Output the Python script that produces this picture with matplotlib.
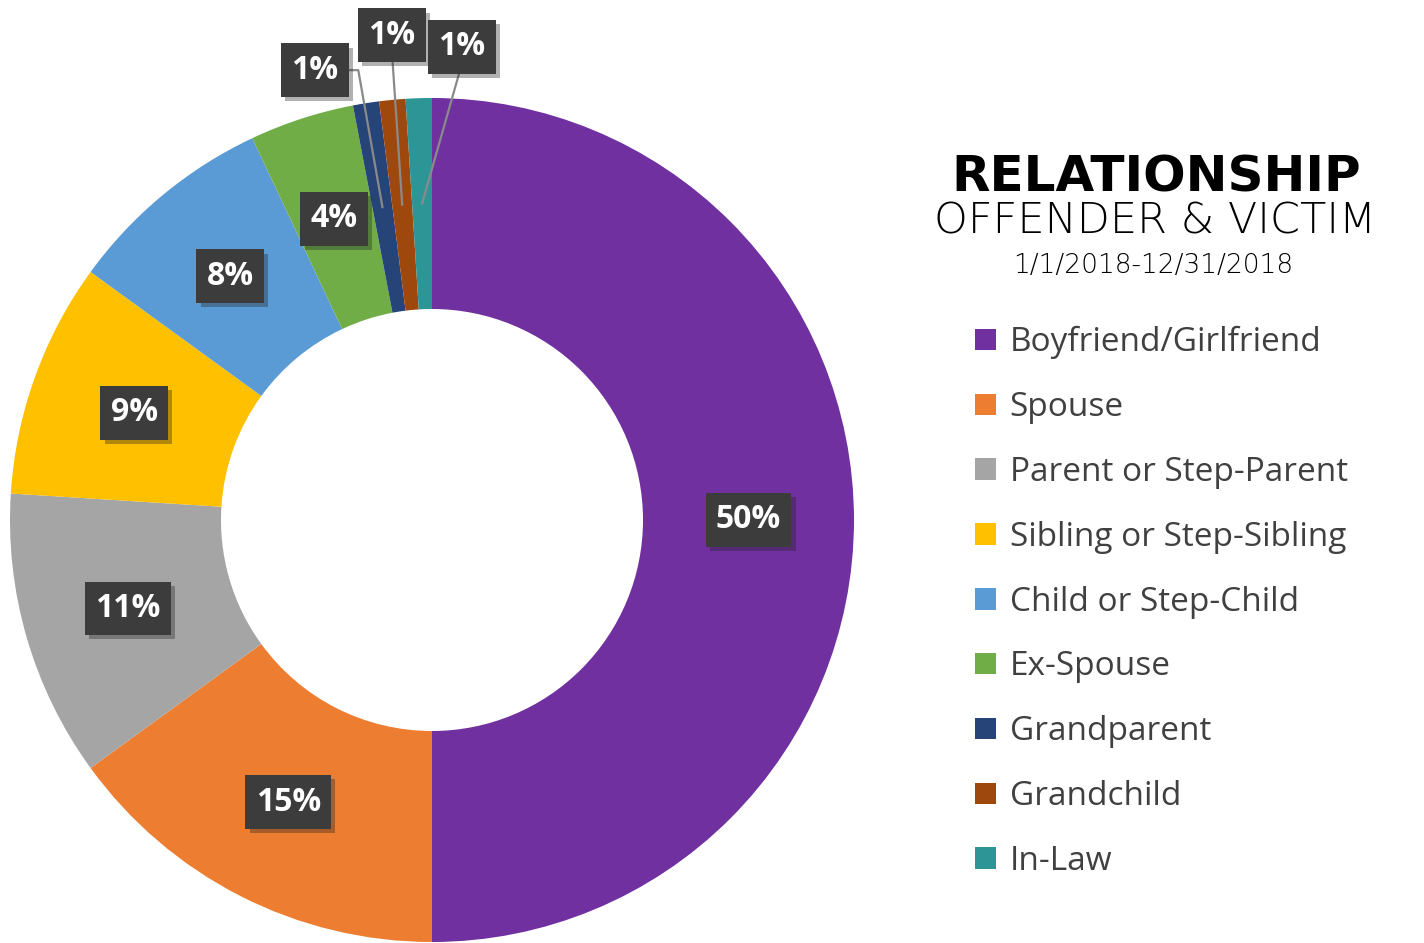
import numpy as np
import matplotlib
matplotlib.use("Agg")
import matplotlib.pyplot as plt
import matplotlib.patheffects as pe

categories = ["Boyfriend/Girlfriend", "Spouse", "Parent or Step-Parent",
              "Sibling or Step-Sibling", "Child or Step-Child", "Ex-Spouse",
              "Grandparent", "Grandchild", "In-Law"]
values = [50, 15, 11, 9, 8, 4, 1, 1, 1]
labels = ["50%", "15%", "11%", "9%", "8%", "4%", "1%", "1%", "1%"]
colors = ["#7030A0", "#ED7D31", "#A5A5A5", "#FFC000", "#5B9BD5",
          "#70AD47", "#264478", "#9E480E", "#2E9597"]
# label offsets (outside placement) for the small slices, in axes data units
outside_text = {6: (-0.277, 1.066), 7: (-0.095, 1.149), 8: (0.071, 1.121)}

W, H = 1424, 943
fig = plt.figure(figsize=(W / 100, H / 100), dpi=100)
fig.patch.set_facecolor("white")

cx, cy, R = 432, 520, 422
ax = fig.add_axes([(cx - R) / W, (H - cy - R) / H, 2 * R / W, 2 * R / H])

wedges, _ = ax.pie(values, colors=colors, startangle=90, counterclock=False,
                   radius=1.0, wedgeprops=dict(width=0.5, edgecolor="none"))
ax.set_xlim(-1, 1)
ax.set_ylim(-1, 1)
ax.set_aspect("equal")
ax.axis("off")

total = float(sum(values))
cum = np.cumsum([0] + values[:-1])
lab_font = dict(family=["Open Sans", "DejaVu Sans"], weight="bold", fontsize=23, color="white")
box = dict(boxstyle="square,pad=0.32", facecolor="#3C3C3C", edgecolor="none")
shadow = [pe.SimplePatchShadow(offset=(3, -3), alpha=0.35, shadow_rgbFace="#222222"), pe.Normal()]

for i, v in enumerate(values):
    mid = (cum[i] + v / 2) / total * 360.0
    th = np.deg2rad(90 - mid)
    r = 0.75
    px, py = r * np.cos(th), r * np.sin(th)
    if i in outside_text:
        tx, ty = outside_text[i]
        if i == 6:
            cs = "angle,angleA=0,angleB=100,rad=0"
        else:
            cs = "arc3,rad=0"
        t = ax.annotate(labels[i], xy=(px, py), xytext=(tx, ty), ha="center", va="center",
                        bbox=box, arrowprops=dict(arrowstyle="-", color="#8A8A8A", lw=1.6,
                                                  shrinkA=0, shrinkB=0, connectionstyle=cs,
                                                  relpos=(1.0, 0.5) if i == 6 else (0.5, 0.0)),
                        annotation_clip=False, **lab_font)
    else:
        t = ax.text(px, py, labels[i], ha="center", va="center", bbox=box, **lab_font)
    t.get_bbox_patch().set_path_effects(shadow)

# Titles
fig.text(1156 / W, 1 - 191 / H, "RELATIONSHIP", ha="center", va="baseline",
         family="DejaVu Sans", weight="bold", fontsize=36, color="black")
fig.text(1155 / W, 1 - 234 / H, "OFFENDER & VICTIM", ha="center", va="baseline",
         family="DejaVu Sans", weight="light", fontsize=31, color="black")
fig.text(1153 / W, 1 - 273 / H, "1/1/2018-12/31/2018", ha="center", va="baseline",
         family="DejaVu Sans", weight="light", fontsize=19, color="black")

leg = fig.legend(wedges, categories, loc="upper left",
                 bbox_to_anchor=(975 / W, 1 - 326 / H), frameon=False,
                 prop=dict(family=["Open Sans", "DejaVu Sans"], size=24),
                 handlelength=0.62, handleheight=0.62, handletextpad=0.42,
                 labelspacing=0.955, borderaxespad=0, borderpad=0)
for txt in leg.get_texts():
    txt.set_color("#404040")

fig.savefig("out.png", dpi=100, facecolor="white")
